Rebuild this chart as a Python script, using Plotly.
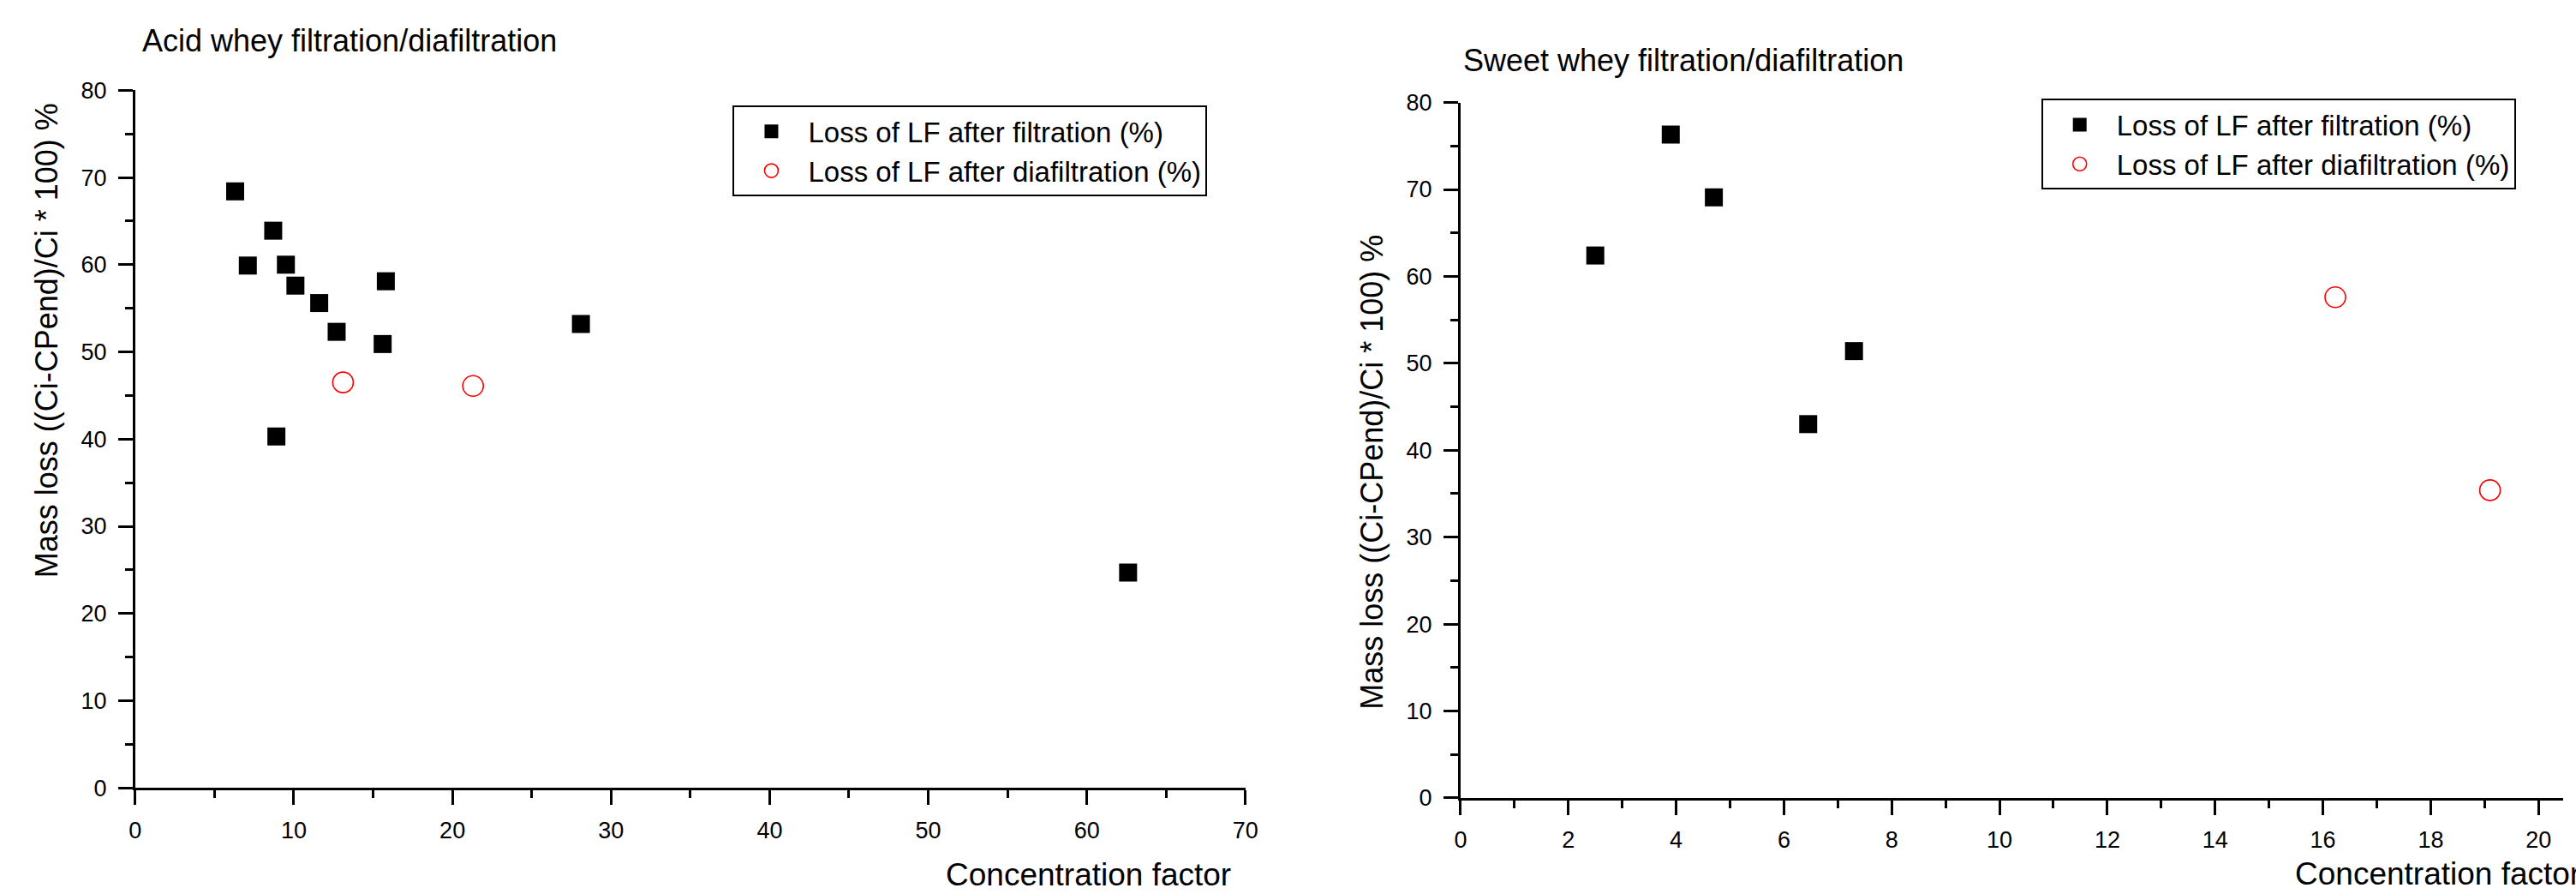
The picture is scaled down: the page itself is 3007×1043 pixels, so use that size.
import plotly.graph_objects as go

W, H = 3007, 1043

# ---- data ----
acid_filt_x = [6.3, 7.1, 8.7, 9.5, 10.1, 11.6, 12.7, 15.8, 15.6, 28.1, 8.9, 62.6]
acid_filt_y = [68.4, 59.9, 63.9, 60.0, 57.6, 55.6, 52.3, 58.1, 50.9, 53.2, 40.3, 24.7]
acid_dia_x = [13.1, 21.3]
acid_dia_y = [46.5, 46.1]

sweet_filt_x = [2.5, 3.9, 4.7, 6.45, 7.3]
sweet_filt_y = [62.4, 76.3, 69.1, 43.0, 51.4]
sweet_dia_x = [16.23, 19.1]
sweet_dia_y = [57.6, 35.4]

name_filt = "Loss of LF after filtration (%)"
name_dia = "Loss of LF after diafiltration (%)"
title_left = "Acid whey filtration/diafiltration"
title_right = "Sweet whey filtration/diafiltration"
xtitle = "Concentration factor"
ytitle = "Mass loss ((Ci-CPend)/Ci * 100) %"

FONT = "Liberation Sans, Arial, sans-serif"


def px(p):
    return p / W


def py(p):
    return 1 - p / H


fig = go.Figure()

sq = dict(symbol="square", size=21, color="black", line=dict(width=0))
circ = dict(symbol="circle-open", size=24, color="red", line=dict(color="red", width=1.6))

fig.add_trace(go.Scatter(x=acid_filt_x, y=acid_filt_y, mode="markers", marker=sq,
                         name=name_filt, xaxis="x", yaxis="y", legend="legend"))
fig.add_trace(go.Scatter(x=acid_dia_x, y=acid_dia_y, mode="markers", marker=circ,
                         name=name_dia, xaxis="x", yaxis="y", legend="legend"))
fig.add_trace(go.Scatter(x=sweet_filt_x, y=sweet_filt_y, mode="markers", marker=sq,
                         name=name_filt, xaxis="x2", yaxis="y2", legend="legend2"))
fig.add_trace(go.Scatter(x=sweet_dia_x, y=sweet_dia_y, mode="markers", marker=circ,
                         name=name_dia, xaxis="x2", yaxis="y2", legend="legend2"))

axis_common = dict(
    showline=True, linecolor="black", linewidth=3,
    ticks="outside", ticklen=17, tickwidth=2.5, tickcolor="black",
    showgrid=False, zeroline=False,
    tickfont=dict(family=FONT, size=27, color="black"),
    minor=dict(ticks="outside", ticklen=9, tickwidth=2.5, tickcolor="black", showgrid=False),
)

legend_common = dict(xanchor="left", yanchor="middle",
                     bordercolor="black", borderwidth=2, bgcolor="white",
                     font=dict(family=FONT, size=33, color="black"), itemwidth=76)

fig.update_layout(
    width=W, height=H,
    margin=dict(l=0, r=0, t=0, b=0),
    paper_bgcolor="white", plot_bgcolor="white",
    font=dict(family=FONT, color="black"),
    xaxis=dict(domain=[px(151), px(1457)], range=[0, 70], dtick=10,
               minor_dtick=5, anchor="y", ticklabelstandoff=6, **axis_common),
    yaxis=dict(domain=[py(931), py(93)], range=[0, 80], dtick=10,
               minor_dtick=5, anchor="x", ticklabelstandoff=8, **axis_common),
    xaxis2=dict(domain=[px(1710), 1.0], range=[0, (W - 1710) / 63.4], dtick=2,
                minor_dtick=1, anchor="y2", ticklabelstandoff=6, **axis_common),
    yaxis2=dict(domain=[py(943), py(107.7)], range=[0, 80], dtick=10,
                minor_dtick=5, anchor="x2", ticklabelstandoff=8, **axis_common),
    legend=dict(x=px(854), y=py(166), **legend_common),
    legend2=dict(x=px(2393), y=py(158), **legend_common),
    showlegend=True,
)

ann = []
ann.append(dict(text=title_left, x=px(157), y=py(33), xref="paper", yref="paper",
                xanchor="left", yanchor="middle", showarrow=False,
                font=dict(family=FONT, size=36, color="black")))
ann.append(dict(text=title_right, x=px(1711), y=py(57), xref="paper", yref="paper",
                xanchor="left", yanchor="middle", showarrow=False,
                font=dict(family=FONT, size=36, color="black")))
ann.append(dict(text=xtitle, x=px(1442), y=py(1035), xref="paper", yref="paper",
                xanchor="right", yanchor="middle", showarrow=False,
                font=dict(family=FONT, size=37, color="black")))
ann.append(dict(text=xtitle, x=px(2690), y=py(1034), xref="paper", yref="paper",
                xanchor="left", yanchor="middle", showarrow=False,
                font=dict(family=FONT, size=37, color="black")))
ann.append(dict(text=ytitle, x=px(47), y=py(394), xref="paper", yref="paper",
                xanchor="center", yanchor="middle", showarrow=False, textangle=-90,
                font=dict(family=FONT, size=36, color="black")))
ann.append(dict(text=ytitle, x=px(1605), y=py(552), xref="paper", yref="paper",
                xanchor="center", yanchor="middle", showarrow=False, textangle=-90,
                font=dict(family=FONT, size=36, color="black")))
fig.update_layout(annotations=ann)

fig.write_html("out.html", config={"displayModeBar": False},
               post_script="document.body.style.margin='0';document.body.style.overflow='hidden';")
